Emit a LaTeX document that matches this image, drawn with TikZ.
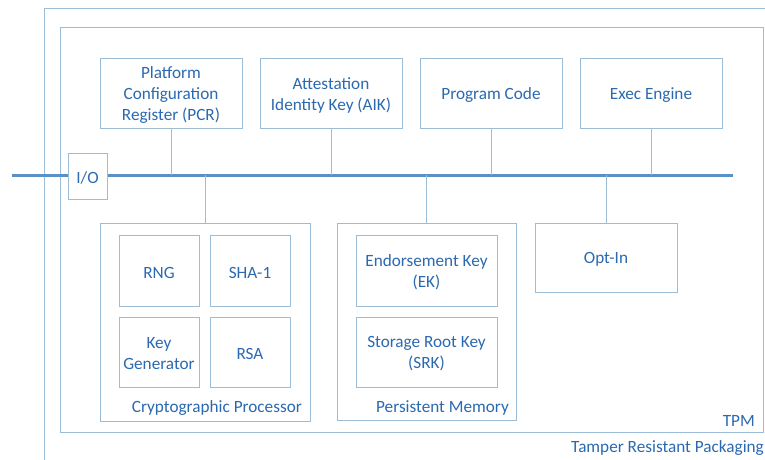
\documentclass[tikz,border=0pt]{standalone}
\usepackage{fontspec}
\setmainfont{Carlito}
\definecolor{txtblue}{HTML}{2B69B0}
\definecolor{boxline}{HTML}{9CBDD8}
\definecolor{busblue}{HTML}{5B8FC8}
\begin{document}
\begin{tikzpicture}[x=1pt,y=-1pt,
  every node/.style={text=txtblue, font=\fontsize{17.2}{21}\selectfont},
  blk/.style={draw=boxline, line width=0.9pt, fill=white, inner sep=0pt},
  txt/.style={inner sep=0pt, align=center, yshift=-2pt},
  link/.style={draw=boxline, line width=0.9pt},
  lbl/.style={inner sep=0pt}
]
\useasboundingbox (0,0) rectangle (765,460);
\clip (0,0) rectangle (765,460);

% packaging and chip outlines
\draw[boxline, line width=0.9pt] (44,8) rectangle (790,480);
\draw[boxline, line width=0.9pt] (60,27) rectangle (763,432);
\node[lbl, anchor=east] (tpm) at (755,421) {TPM};
\node[lbl, anchor=east] (pkg) at (764,448) {Tamper Resistant Packaging};

% internal bus
\coordinate (busL) at (12,175);
\coordinate (busR) at (733,175);
\draw[busblue, line width=3pt] (busL) -- (busR);
\node[blk, minimum width=39, minimum height=46] (io) at (87.5,176) {};
\node[txt] (io-t) at (io.center) {I/O};

% upper row
\node[blk, minimum width=142, minimum height=70] (pcr) at (171,93) {};
\node[txt] (pcr-t) at (pcr.center) {Platform\\Configuration\\Register (PCR)};
\node[blk, minimum width=142, minimum height=70] (aik) at (331,93) {};
\node[txt] (aik-t) at (aik.center) {Attestation\\Identity Key (AIK)};
\node[blk, minimum width=142, minimum height=70] (code) at (491,93) {};
\node[txt] (code-t) at (code.center) {Program Code};
\node[blk, minimum width=142, minimum height=70] (exec) at (651,93) {};
\node[txt] (exec-t) at (exec.center) {Exec Engine};

% cryptographic processor
\node[blk, minimum width=210, minimum height=198] (crypto) at (205,322) {};
\node[blk, minimum width=80, minimum height=71] (rng) at (159,270.5) {};
\node[txt] (rng-t) at (rng.center) {RNG};
\node[blk, minimum width=80, minimum height=71] (sha) at (250,270.5) {};
\node[txt] (sha-t) at (sha.center) {SHA-1};
\node[blk, minimum width=80, minimum height=70] (keygen) at (159,352) {};
\node[txt] (keygen-t) at (keygen.center) {Key\\Generator};
\node[blk, minimum width=80, minimum height=70] (rsa) at (250,352) {};
\node[txt] (rsa-t) at (rsa.center) {RSA};
\node[lbl, anchor=east] (cryptolbl) at (302,408) {Cryptographic Processor};

% persistent memory
\node[blk, minimum width=179, minimum height=197] (mem) at (426.5,321.5) {};
\node[blk, minimum width=141, minimum height=71] (ek) at (426.5,270.5) {};
\node[txt] (ek-t) at (ek.center) {Endorsement Key\\(EK)};
\node[blk, minimum width=141, minimum height=70] (srk) at (426.5,352) {};
\node[txt] (srk-t) at (srk.center) {Storage Root Key\\(SRK)};
\node[lbl, anchor=east] (memlbl) at (509,408) {Persistent Memory};

\node[blk, minimum width=142, minimum height=69] (optin) at (606,257.5) {};
\node[txt] (optin-t) at (optin.center) {Opt-In};

% taps onto the bus
\foreach \n in {pcr,aik,code,exec}
  \draw[link] (\n.south) -- (\n.south |- busL);
\foreach \n in {crypto,mem,optin}
  \draw[link] (\n.north |- busL) -- (\n.north);
\end{tikzpicture}
\end{document}
